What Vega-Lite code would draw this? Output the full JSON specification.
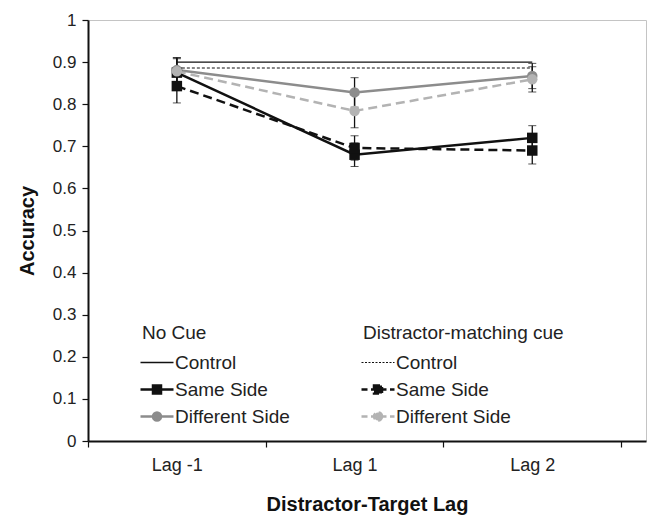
{
  "$schema": "https://vega.github.io/schema/vega-lite/v6.json",
  "width": 558,
  "height": 421,
  "autosize": {"type": "none"},
  "padding": {"left": 88, "top": 20, "right": 1, "bottom": 76},
  "background": "white",
  "data": {
    "values": [
      {"cue": "No Cue", "series": "Control", "lag": "Lag -1", "acc": 0.9},
      {"cue": "No Cue", "series": "Control", "lag": "Lag 1", "acc": 0.9},
      {"cue": "No Cue", "series": "Control", "lag": "Lag 2", "acc": 0.9},
      {"cue": "Cue", "series": "Control", "lag": "Lag -1", "acc": 0.886},
      {"cue": "Cue", "series": "Control", "lag": "Lag 1", "acc": 0.886},
      {"cue": "Cue", "series": "Control", "lag": "Lag 2", "acc": 0.886},
      {"cue": "No Cue", "series": "Same Side", "lag": "Lag -1", "acc": 0.875, "lo": 0.84, "hi": 0.91},
      {"cue": "No Cue", "series": "Same Side", "lag": "Lag 1", "acc": 0.68, "lo": 0.652, "hi": 0.708},
      {"cue": "No Cue", "series": "Same Side", "lag": "Lag 2", "acc": 0.72, "lo": 0.69, "hi": 0.749},
      {"cue": "Cue", "series": "Same Side", "lag": "Lag -1", "acc": 0.843, "lo": 0.803, "hi": 0.883},
      {"cue": "Cue", "series": "Same Side", "lag": "Lag 1", "acc": 0.696, "lo": 0.667, "hi": 0.725},
      {"cue": "Cue", "series": "Same Side", "lag": "Lag 2", "acc": 0.69, "lo": 0.658, "hi": 0.72},
      {"cue": "No Cue", "series": "Different Side", "lag": "Lag -1", "acc": 0.881, "lo": 0.851, "hi": 0.911},
      {"cue": "No Cue", "series": "Different Side", "lag": "Lag 1", "acc": 0.828, "lo": 0.793, "hi": 0.863},
      {"cue": "No Cue", "series": "Different Side", "lag": "Lag 2", "acc": 0.867, "lo": 0.837, "hi": 0.897},
      {"cue": "Cue", "series": "Different Side", "lag": "Lag -1", "acc": 0.878, "lo": 0.848, "hi": 0.908},
      {"cue": "Cue", "series": "Different Side", "lag": "Lag 1", "acc": 0.784, "lo": 0.744, "hi": 0.824},
      {"cue": "Cue", "series": "Different Side", "lag": "Lag 2", "acc": 0.859, "lo": 0.829, "hi": 0.889}
    ]
  },
  "encoding": {
    "x": {
      "field": "lag", "type": "nominal", "sort": ["Lag -1", "Lag 1", "Lag 2"],
      "scale": {"paddingInner": 0, "paddingOuter": 0.07, "align": 0},
      "axis": {"title": "Distractor-Target Lag", "labelAngle": 0, "tickBand": "extent", "labelFontSize": 18, "labelPadding": 9, "titlePadding": 20, "titleFontSize": 20}
    },
    "y": {
      "field": "acc", "type": "quantitative", "title": "Accuracy",
      "scale": {"domain": [0, 1], "nice": false, "zero": true},
      "axis": {"values": [0, 0.1, 0.2, 0.3, 0.4, 0.5, 0.6, 0.7, 0.8, 0.9, 1], "format": "~g", "labelFontSize": 17, "labelPadding": 6, "titlePadding": 15, "titleFontSize": 20}
    }
  },
  "layer": [
    {
      "transform": [{"filter": "datum.series !== 'Control'"}],
      "mark": {"type": "errorbar", "ticks": {"size": 8, "color": "#111", "strokeWidth": 1.3}, "rule": {"color": "#111", "strokeWidth": 1.3}},
      "encoding": {
        "y": {"field": "lo", "type": "quantitative", "title": "Accuracy"},
        "y2": {"field": "hi"}
      }
    },
    {
      "transform": [{"filter": "datum.cue === 'No Cue'"}],
      "encoding": {
        "color": {
          "field": "series", "type": "nominal",
          "scale": {"domain": ["Control", "Same Side", "Different Side"], "range": ["#111111", "#111111", "#8c8c8c"]},
          "legend": {
            "title": "No Cue", "orient": "none", "legendX": 54, "legendY": 304, "padding": 0,
            "titleFont": "Liberation Sans", "titleFontSize": 19, "titleFontWeight": "normal", "titleColor": "#222", "titlePadding": 10, "titleLimit": 400,
            "labelFont": "Liberation Sans", "labelFontSize": 19, "labelColor": "#222", "labelOffset": 14, "labelLimit": 300,
            "symbolSize": 400, "rowPadding": 7,
            "encode": {
              "symbols": {
                "update": {
                  "shape": {"signal": "datum.value === 'Control' ? 'M-1.1,0H2.2' : datum.value === 'Same Side' ? 'M-1.1,0H2.2M0.15,-0.4H0.95V0.4H0.15Z' : 'M-1.1,0H2.2M0.95,0A0.4,0.4 0 1,1 0.15,0A0.4,0.4 0 1,1 0.95,0Z'"},
                  "fill": {"signal": "datum.value === 'Different Side' ? '#8c8c8c' : '#111111'"},
                  "stroke": {"signal": "datum.value === 'Different Side' ? '#8c8c8c' : '#111111'"},
                  "strokeWidth": {"signal": "datum.value === 'Control' ? 1.3 : 2.5"},
                  "opacity": {"value": 1},
                  "fillOpacity": {"value": 1},
                  "strokeOpacity": {"value": 1}
                }
              }
            }
          }
        }
      },
      "layer": [
        {"transform": [{"filter": "datum.series === 'Control'"}], "mark": {"type": "line", "strokeWidth": 1.3}},
        {"transform": [{"filter": "datum.series !== 'Control'"}], "mark": {"type": "line", "strokeWidth": 2.5}},
        {"transform": [{"filter": "datum.series === 'Same Side'"}], "mark": {"type": "point", "shape": "square", "filled": true, "size": 110, "opacity": 1}},
        {"transform": [{"filter": "datum.series === 'Different Side'"}], "mark": {"type": "point", "shape": "circle", "filled": true, "size": 110, "opacity": 1}}
      ]
    },
    {
      "transform": [{"filter": "datum.cue === 'Cue'"}],
      "encoding": {
        "color": {
          "field": "series", "type": "nominal",
          "scale": {"domain": ["Control", "Same Side", "Different Side"], "range": ["#111111", "#111111", "#b3b3b3"]},
          "legend": {
            "title": "Distractor-matching cue", "orient": "none", "legendX": 275, "legendY": 304, "padding": 0,
            "titleFont": "Liberation Sans", "titleFontSize": 19, "titleFontWeight": "normal", "titleColor": "#222", "titlePadding": 10, "titleLimit": 400,
            "labelFont": "Liberation Sans", "labelFontSize": 19, "labelColor": "#222", "labelOffset": 14, "labelLimit": 300,
            "symbolSize": 400, "rowPadding": 7,
            "encode": {
              "symbols": {
                "update": {
                  "shape": {"signal": "datum.value === 'Control' ? 'M-1.1,0H2.2' : datum.value === 'Same Side' ? 'M-1.1,0H2.2M0.15,-0.4H0.95V0.4H0.15Z' : 'M-1.1,0H2.2M0.95,0A0.4,0.4 0 1,1 0.15,0A0.4,0.4 0 1,1 0.95,0Z'"},
                  "fill": {"signal": "datum.value === 'Different Side' ? '#b3b3b3' : '#111111'"},
                  "stroke": {"signal": "datum.value === 'Different Side' ? '#b3b3b3' : '#111111'"},
                  "strokeWidth": {"signal": "datum.value === 'Control' ? 1 : 2.5"},
                  "strokeDash": {"signal": "datum.value === 'Control' ? [2, 1.5] : [6, 3.5]"},
                  "opacity": {"value": 1},
                  "fillOpacity": {"value": 1},
                  "strokeOpacity": {"value": 1}
                }
              }
            }
          }
        }
      },
      "layer": [
        {"transform": [{"filter": "datum.series === 'Control'"}], "mark": {"type": "line", "strokeWidth": 1.1, "strokeDash": [3, 2]}},
        {"transform": [{"filter": "datum.series !== 'Control'"}], "mark": {"type": "line", "strokeWidth": 2.5, "strokeDash": [9, 5]}},
        {"transform": [{"filter": "datum.series === 'Same Side'"}], "mark": {"type": "point", "shape": "square", "filled": true, "size": 110, "opacity": 1}},
        {"transform": [{"filter": "datum.series === 'Different Side'"}], "mark": {"type": "point", "shape": "circle", "filled": true, "size": 110, "opacity": 1}}
      ]
    }
  ],
  "resolve": {"scale": {"color": "independent"}},
  "config": {
    "view": {"stroke": "#c4c4c4", "strokeWidth": 1},
    "font": "Liberation Sans",
    "axis": {
      "domainColor": "#111", "domainWidth": 2, "tickColor": "#111", "tickWidth": 1.2, "tickSize": 6,
      "labelColor": "#222", "titleColor": "#111", "labelFont": "Liberation Sans", "titleFont": "Liberation Sans",
      "titleFontWeight": "bold", "grid": false
    }
  }
}
